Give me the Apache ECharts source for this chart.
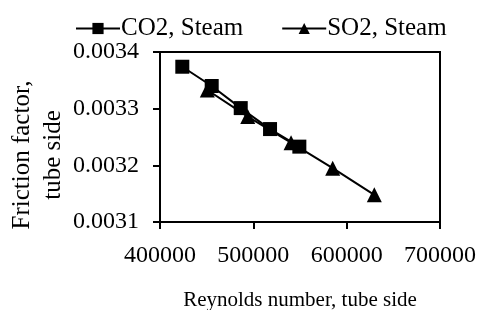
<!DOCTYPE html>
<html>
<head>
<meta charset="utf-8">
<script src="https://cdn.jsdelivr.net/npm/echarts@6/dist/echarts.min.js"></script>
<style>
  html, body { margin: 0; padding: 0; background: #fff; }
  #chart { width: 480px; height: 310px; }
</style>
</head>
<body>
<div id="chart"></div>
<script>
const co2Re = [423900, 455400, 486500, 517900, 549300];
const co2F = [0.003374, 0.00334, 0.003301, 0.003264, 0.003233];
const so2Re = [450700, 494000, 540400, 585000, 629600];
const so2F = [0.003333, 0.003286, 0.00324, 0.003195, 0.003148];

const font = "Liberation Serif";

const myChart = echarts.init(document.getElementById("chart"));

const option = {
  animation: false,
  textStyle: { fontFamily: font, color: "#000" },
  legend: {
    top: 11,
    left: 70,
    itemGap: 38,
    itemWidth: 44,
    itemHeight: 14,
    textStyle: { fontFamily: font, fontSize: 25, color: "#000", padding: [0, 0, 0, -4] },
    data: ["CO2, Steam", "SO2, Steam"],
  },
  grid: {
    left: 160,
    right: 40,
    top: 52,
    bottom: 88,
    outerBoundsMode: "none",
    containLabel: false,
    show: true,
    borderColor: "#000",
    borderWidth: 2,
  },
  graphic: [
    {
      type: "text",
      x: 38,
      y: 155,
      rotation: Math.PI / 2,
      style: {
        text: "Friction factor,\ntube side",
        fontFamily: font,
        fontSize: 25,
        lineHeight: 31,
        fill: "#000",
        align: "center",
        verticalAlign: "middle",
      },
    },
  ],
  xAxis: {
    type: "value",
    min: 400000,
    max: 700000,
    interval: 100000,
    name: "Reynolds number, tube side",
    nameLocation: "middle",
    nameGap: 68,
    nameTextStyle: { fontFamily: font, fontSize: 21, color: "#000" },
    axisLine: { lineStyle: { color: "#000", width: 2 } },
    axisTick: { show: true, length: 7, lineStyle: { color: "#000", width: 2 } },
    axisLabel: {
      fontFamily: font,
      fontSize: 24,
      color: "#000",
      margin: 22,
      formatter: (v) => String(v),
    },
    splitLine: { show: false },
  },
  yAxis: {
    type: "value",
    min: 0.0031,
    max: 0.0034,
    interval: 0.0001,
    axisLine: { lineStyle: { color: "#000", width: 2 } },
    axisTick: { show: true, length: 7, lineStyle: { color: "#000", width: 2 } },
    axisLabel: {
      fontFamily: font,
      fontSize: 24,
      color: "#000",
      margin: 21,
      formatter: (v) => v.toFixed(4),
    },
    splitLine: { show: false },
  },
  series: [
    {
      name: "CO2, Steam",
      type: "line",
      data: co2Re.map((x, i) => [x, co2F[i]]),
      symbol: "rect",
      symbolSize: 14,
      itemStyle: { color: "#000" },
      lineStyle: { color: "#000", width: 2 },
    },
    {
      name: "SO2, Steam",
      type: "line",
      data: so2Re.map((x, i) => [x, so2F[i]]),
      symbol: "triangle",
      symbolSize: 15,
      itemStyle: { color: "#000" },
      lineStyle: { color: "#000", width: 2 },
    },
  ],
};

myChart.setOption(option);
</script>
</body>
</html>
